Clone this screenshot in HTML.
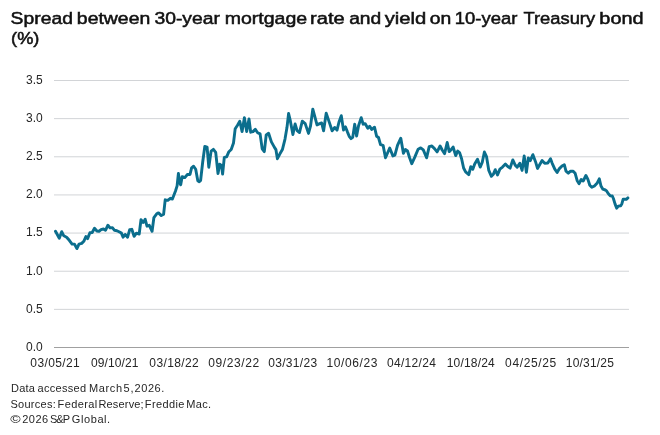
<!DOCTYPE html>
<html><head><meta charset="utf-8"><style>
html,body{margin:0;padding:0;background:#fff;}
body{width:660px;height:435px;overflow:hidden;}
svg{display:block;will-change:transform;}
text{font-family:"Liberation Sans",sans-serif;}
.ax{font-size:12px;fill:#262626;}
.t{font-size:16.3px;fill:#111;stroke:#111;stroke-width:0.5px;}
.f{font-size:11px;fill:#262626;}
</style></head><body>
<svg width="660" height="435" viewBox="0 0 660 435">
<text x="10.63" y="24.4" class="t" textLength="62.26" lengthAdjust="spacingAndGlyphs">Spread</text>
<text x="76.89" y="24.4" class="t" textLength="73.38" lengthAdjust="spacingAndGlyphs">between</text>
<text x="154.43" y="24.4" class="t" textLength="65.51" lengthAdjust="spacingAndGlyphs">30-year</text>
<text x="224.71" y="24.4" class="t" textLength="82.47" lengthAdjust="spacingAndGlyphs">mortgage</text>
<text x="310.10" y="24.4" class="t" textLength="34.62" lengthAdjust="spacingAndGlyphs">rate</text>
<text x="349.17" y="24.4" class="t" textLength="32.11" lengthAdjust="spacingAndGlyphs">and</text>
<text x="384.70" y="24.4" class="t" textLength="41.61" lengthAdjust="spacingAndGlyphs">yield</text>
<text x="429.89" y="24.4" class="t" textLength="21.50" lengthAdjust="spacingAndGlyphs">on</text>
<text x="454.77" y="24.4" class="t" textLength="62.63" lengthAdjust="spacingAndGlyphs">10-year</text>
<text x="523.41" y="24.4" class="t" textLength="71.77" lengthAdjust="spacingAndGlyphs">Treasury</text>
<text x="599.37" y="24.4" class="t" textLength="44.19" lengthAdjust="spacingAndGlyphs">bond</text>
<text x="11.12" y="43.5" class="t" textLength="28.34" lengthAdjust="spacingAndGlyphs">(%)</text>
<text x="30.33" y="366.6" class="ax" textLength="49.39" lengthAdjust="spacing">03/05/21</text>
<text x="91.00" y="366.6" class="ax" textLength="47.42" lengthAdjust="spacing">09/10/21</text>
<text x="149.33" y="366.6" class="ax" textLength="49.44" lengthAdjust="spacing">03/18/22</text>
<text x="208.13" y="366.6" class="ax" textLength="51.01" lengthAdjust="spacing">09/23/22</text>
<text x="268.23" y="366.6" class="ax" textLength="48.87" lengthAdjust="spacing">03/31/23</text>
<text x="326.55" y="366.6" class="ax" textLength="50.92" lengthAdjust="spacing">10/06/23</text>
<text x="387.03" y="366.6" class="ax" textLength="48.81" lengthAdjust="spacing">04/12/24</text>
<text x="446.71" y="366.6" class="ax" textLength="48.03" lengthAdjust="spacing">10/18/24</text>
<text x="505.11" y="366.6" class="ax" textLength="51.01" lengthAdjust="spacing">04/25/25</text>
<text x="565.83" y="366.6" class="ax" textLength="48.01" lengthAdjust="spacing">10/31/25</text>
<text x="10.99" y="392" class="f" textLength="23.94" lengthAdjust="spacing">Data</text>
<text x="37.59" y="392" class="f" textLength="48.44" lengthAdjust="spacing">accessed</text>
<text x="89.03" y="392" class="f" textLength="33.03" lengthAdjust="spacing">March</text>
<text x="123.59" y="392" class="f" textLength="10.01" lengthAdjust="spacing">5,</text>
<text x="134.47" y="392" class="f" textLength="29.91" lengthAdjust="spacing">2026.</text>
<text x="10.38" y="407.7" class="f" textLength="45.36" lengthAdjust="spacing">Sources:</text>
<text x="57.56" y="407.7" class="f" textLength="39.63" lengthAdjust="spacing">Federal</text>
<text x="98.41" y="407.7" class="f" textLength="45.27" lengthAdjust="spacing">Reserve;</text>
<text x="144.86" y="407.7" class="f" textLength="39.63" lengthAdjust="spacing">Freddie</text>
<text x="186.26" y="407.7" class="f" textLength="24.73" lengthAdjust="spacing">Mac.</text>
<text x="10.31" y="422.6" class="f" textLength="10.40" lengthAdjust="spacingAndGlyphs">©</text>
<text x="22.24" y="422.6" class="f" textLength="25.84" lengthAdjust="spacing">2026</text>
<text x="49.94" y="422.6" class="f" textLength="20.19" lengthAdjust="spacing">S&amp;P</text>
<text x="71.83" y="422.6" class="f" textLength="38.33" lengthAdjust="spacing">Global.</text>
<line x1="54" x2="629" y1="80.50" y2="80.50" stroke="#d2d4d7" stroke-width="1"/>
<text x="42.7" y="83.90" text-anchor="end" class="ax">3.5</text>
<line x1="54" x2="629" y1="118.64" y2="118.64" stroke="#d2d4d7" stroke-width="1"/>
<text x="42.7" y="122.04" text-anchor="end" class="ax">3.0</text>
<line x1="54" x2="629" y1="156.79" y2="156.79" stroke="#d2d4d7" stroke-width="1"/>
<text x="42.7" y="160.19" text-anchor="end" class="ax">2.5</text>
<line x1="54" x2="629" y1="194.93" y2="194.93" stroke="#d2d4d7" stroke-width="1"/>
<text x="42.7" y="198.33" text-anchor="end" class="ax">2.0</text>
<line x1="54" x2="629" y1="233.07" y2="233.07" stroke="#d2d4d7" stroke-width="1"/>
<text x="42.7" y="236.47" text-anchor="end" class="ax">1.5</text>
<line x1="54" x2="629" y1="271.22" y2="271.22" stroke="#d2d4d7" stroke-width="1"/>
<text x="42.7" y="274.62" text-anchor="end" class="ax">1.0</text>
<line x1="54" x2="629" y1="309.36" y2="309.36" stroke="#d2d4d7" stroke-width="1"/>
<text x="42.7" y="312.76" text-anchor="end" class="ax">0.5</text>
<line x1="54" x2="629" y1="347.50" y2="347.50" stroke="#a0a0a0" stroke-width="1"/>
<text x="42.7" y="350.90" text-anchor="end" class="ax">0.0</text>
<path d="M55.5,231.3 L59.3,238.2 L61.7,231.7 L63.8,235.8 L66.6,237.2 L69.3,240.3 L72.1,244.1 L74.5,244.1 L76.9,248.6 L79.0,244.1 L81.7,243.4 L83.8,241.3 L85.9,236.5 L87.6,238.6 L89.9,232.8 L92.2,232.5 L94.5,228.3 L96.9,231.0 L99.0,231.4 L101.0,229.7 L103.5,229.0 L105.5,230.3 L107.9,225.2 L110.0,227.9 L112.4,227.6 L114.5,230.3 L116.9,230.7 L119.0,231.7 L121.4,233.1 L123.1,237.2 L125.2,234.5 L127.6,237.2 L129.7,229.7 L131.8,229.3 L134.1,236.3 L136.4,233.1 L139.2,234.0 L141.0,219.8 L143.3,222.5 L145.2,219.3 L147.0,226.2 L149.3,225.3 L152.1,231.3 L153.9,217.5 L156.7,213.8 L158.5,212.9 L161.3,215.6 L163.6,214.3 L165.2,199.8 L167.8,200.3 L170.3,198.3 L172.4,199.1 L175.5,191.0 L177.1,185.9 L178.4,173.4 L179.7,182.8 L180.7,184.8 L182.2,176.6 L184.8,177.6 L187.4,174.5 L190.0,174.5 L191.6,167.8 L193.6,166.2 L195.7,169.3 L197.8,180.7 L199.3,181.7 L200.6,180.5 L202.7,162.0 L204.8,146.5 L207.1,147.1 L208.8,167.2 L211.1,151.1 L213.4,149.4 L215.7,152.3 L218.0,173.5 L219.7,164.3 L221.5,165.5 L222.6,174.1 L224.3,157.4 L226.6,156.9 L228.9,151.7 L231.2,149.5 L233.5,143.0 L235.2,128.7 L237.5,125.3 L239.8,121.2 L242.1,131.6 L244.4,117.8 L246.7,131.6 L249.0,118.9 L250.7,132.2 L253.0,131.6 L255.3,129.3 L257.6,132.7 L260.1,133.9 L262.2,148.9 L264.3,151.7 L266.2,135.0 L268.6,133.3 L271.4,141.9 L274.6,147.6 L275.9,149.6 L277.4,158.7 L279.8,154.1 L282.4,149.6 L285.0,139.1 L287.0,127.3 L288.6,113.5 L290.3,120.7 L292.9,134.5 L295.1,124.0 L297.1,130.6 L299.5,132.5 L302.3,121.2 L305.2,123.6 L308.5,133.4 L310.5,126.2 L312.8,109.2 L315.1,117.7 L317.0,124.9 L319.7,123.6 L321.6,122.9 L323.6,130.8 L326.2,113.1 L329.5,122.9 L332.1,130.8 L334.7,127.5 L337.0,130.1 L339.0,122.0 L341.3,115.7 L343.5,130.1 L345.5,126.9 L347.5,132.1 L349.4,136.7 L351.0,138.7 L352.7,137.4 L354.7,124.2 L356.6,136.0 L358.6,125.6 L361.2,117.7 L363.2,124.2 L365.1,123.6 L367.8,128.2 L369.7,126.2 L371.7,129.5 L374.5,127.2 L376.6,136.2 L378.5,137.5 L380.5,144.7 L383.1,145.4 L385.5,157.8 L389.7,148.0 L392.9,155.9 L394.9,155.2 L397.5,145.4 L400.8,138.2 L403.4,153.2 L405.4,149.5 L407.5,151.0 L409.6,157.8 L411.8,163.7 L414.8,157.1 L418.1,149.2 L420.7,147.9 L423.3,149.9 L426.6,157.8 L429.2,146.6 L431.9,146.0 L434.5,148.6 L437.1,151.9 L440.1,146.0 L442.2,150.0 L444.6,153.6 L447.2,142.5 L449.2,151.6 L451.1,149.7 L453.1,147.0 L455.7,155.6 L457.7,151.0 L459.7,152.9 L461.6,158.8 L463.6,168.0 L465.6,171.9 L468.8,174.6 L470.8,166.7 L472.8,169.3 L474.7,164.1 L477.5,159.3 L480.2,167.1 L482.2,162.5 L484.4,152.0 L486.5,156.6 L488.8,170.4 L491.4,176.3 L493.3,174.3 L495.3,169.7 L497.5,175.0 L499.9,169.1 L502.5,167.1 L505.4,164.1 L507.8,166.5 L510.1,168.1 L512.8,159.9 L515.2,165.1 L517.2,167.1 L519.8,163.2 L522.1,170.4 L524.2,156.0 L526.4,172.4 L528.3,157.9 L530.3,160.6 L532.9,154.7 L535.6,161.9 L537.5,168.4 L539.5,165.1 L542.1,160.6 L544.7,163.2 L547.8,163.0 L550.5,158.8 L552.2,163.3 L554.8,169.2 L557.1,172.5 L559.4,168.6 L562.0,166.0 L564.3,164.7 L566.0,171.2 L568.3,173.2 L570.6,171.2 L573.2,171.2 L575.1,173.2 L577.1,180.4 L579.1,183.7 L581.2,179.5 L583.2,181.0 L585.9,175.5 L587.9,179.4 L589.8,185.3 L591.8,187.3 L594.4,186.0 L597.0,183.3 L599.3,178.8 L601.0,186.0 L602.9,189.2 L605.3,190.0 L606.6,190.9 L608.4,193.8 L610.2,195.7 L612.3,196.0 L613.4,198.5 L615.1,204.1 L616.7,208.2 L618.3,206.1 L620.7,205.7 L621.9,203.7 L623.1,199.3 L624.7,199.3 L626.3,199.3 L627.9,197.9" fill="none" stroke="#0b6e8d" stroke-width="2.9" stroke-linejoin="round" stroke-linecap="round"/>
</svg>
</body></html>
